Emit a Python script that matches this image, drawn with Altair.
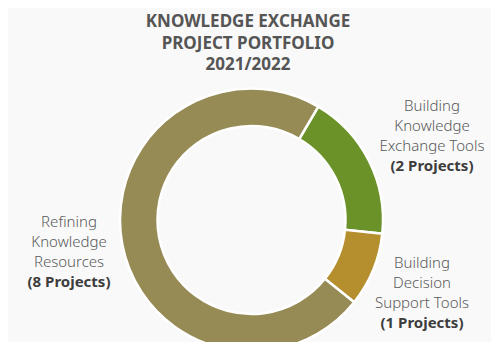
import altair as alt
import pandas as pd
import math

# Data
categories = ["Building Knowledge Exchange Tools", "Building Decision Support Tools", "Refining Knowledge Resources"]
projects = [2, 1, 8]
colors = ["#6b9228", "#b58f2e", "#968a55"]
label_lines = ["Building\nKnowledge\nExchange Tools", "Building\nDecision\nSupport Tools", "Refining\nKnowledge\nResources"]
count_labels = ["(2 Projects)", "(1 Projects)", "(8 Projects)"]
title_lines = ["KNOWLEDGE EXCHANGE", "PROJECT PORTFOLIO", "2021/2022"]

df = pd.DataFrame({
    "category": categories,
    "projects": projects,
    "order": list(range(len(categories))),
    "label": label_lines,
    "count": count_labels,
})

FONT = "Noto Sans"
start = math.radians(30.5)
OFF = 8  # page margin

cx, cy = 251.5 - OFF, 220 - OFF

base = alt.Chart(df)

donut = base.mark_arc(outerRadius=131.5, innerRadius=94, stroke="white", strokeWidth=2.5).encode(
    theta=alt.Theta("projects:Q", stack=True, scale=alt.Scale(range=[start, start + 2 * math.pi])),
    order=alt.Order("order:Q"),
    color=alt.Color("category:N", scale=alt.Scale(domain=categories, range=colors), legend=None),
    x=alt.value(cx),
    y=alt.value(cy),
)

# label positions (page coords of center x, first baseline)
pos = [(432, 111), (422, 268), (69, 227)]
layers = [donut]
for cat, (px, py) in zip(categories, pos):
    f = base.transform_filter(alt.datum.category == cat)
    layers.append(
        f.mark_text(font=FONT, fontSize=15, fontWeight=300, color="#5a5a5a", align="center", baseline="alphabetic",
                    lineBreak="\n", lineHeight=20).encode(
            text="label:N", x=alt.value(px - OFF), y=alt.value(py - OFF))
    )
    layers.append(
        f.mark_text(font=FONT, fontSize=15, fontWeight="bold", color="#3d3d3d", align="center",
                    baseline="alphabetic").encode(
            text="count:N", x=alt.value(px - OFF), y=alt.value(py - OFF + 60))
    )

title_df = pd.DataFrame({"t": ["\n".join(title_lines)]})
title = alt.Chart(title_df).mark_text(font=FONT, fontSize=17, fontWeight="bold", color="#555555",
                                       align="center", baseline="alphabetic", lineBreak="\n",
                                       lineHeight=21.5).encode(
    text="t:N", x=alt.value(248 - OFF), y=alt.value(27 - OFF))
layers.append(title)

chart = alt.layer(*layers).properties(
    width=483, height=334, padding=0, autosize="none", background="#f9f9f9"
).configure_view(stroke=None)

chart.save("out.html", embed_options={"renderer": "svg", "actions": False})
